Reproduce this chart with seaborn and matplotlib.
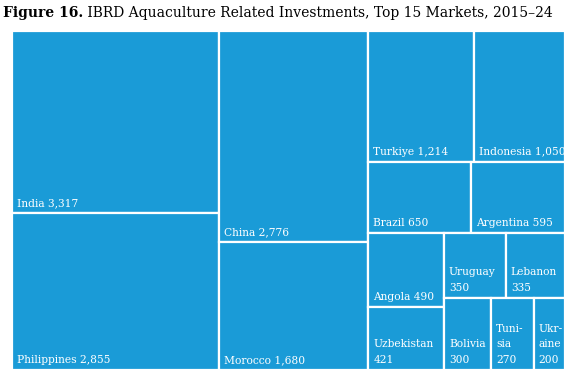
import matplotlib
matplotlib.use("Agg")
import matplotlib.pyplot as plt
import matplotlib.patches as mpatches
import seaborn as sns

# Data: IBRD aquaculture related investments, top 15 markets, 2015-24
markets = ["India", "Philippines", "China", "Morocco", "Turkiye", "Indonesia",
           "Brazil", "Argentina", "Angola", "Uzbekistan", "Uruguay", "Lebanon",
           "Bolivia", "Tunisia", "Ukraine"]
values = [3317, 2855, 2776, 1680, 1214, 1050, 650, 595, 490, 421, 350, 335,
          300, 270, 200]
# label text as printed in each tile (narrow tiles wrap)
labels = ["India 3,317", "Philippines 2,855", "China 2,776", "Morocco 1,680",
          "Turkiye 1,214", "Indonesia 1,050", "Brazil 650", "Argentina 595",
          "Angola 490", "Uzbekistan\n421", "Uruguay\n350", "Lebanon\n335",
          "Bolivia\n300", "Tuni-\nsia\n270", "Ukr-\naine\n200"]

title_bold = "Figure 16."
title_rest = " IBRD Aquaculture Related Investments, Top 15 Markets, 2015\u201324"


def worst(row, w):
    s = sum(row)
    return max(max(w * w * r / (s * s), (s * s) / (w * w * r)) for r in row)


def layout_row(row, x, y, dx, dy):
    # lay a row of areas along the shorter side of the rect
    s = sum(row)
    rects = []
    if dx >= dy:
        width = s / dy
        yy = y
        for r in row:
            h = r / width
            rects.append((x, yy, width, h))
            yy += h
        return rects, (x + width, y, dx - width, dy)
    height = s / dx
    xx = x
    for r in row:
        w = r / height
        rects.append((xx, y, w, height))
        xx += w
    return rects, (x, y + height, dx, dy - height)


def squarify(sizes, x, y, dx, dy):
    total = sum(sizes)
    areas = [v * dx * dy / total for v in sizes]
    rects = []
    rect = (x, y, dx, dy)
    i = 0
    while i < len(areas):
        side = min(rect[2], rect[3])
        row = [areas[i]]
        i += 1
        while i < len(areas) and worst(row + [areas[i]], side) <= worst(row, side):
            row.append(areas[i])
            i += 1
        r, rect = layout_row(row, *rect)
        rects.extend(r)
    return rects


sns.set_style("white")
plt.rcParams["font.family"] = ["DejaVu Serif"]

W, H = 553, 339
tile_color = "#1a9bd7"

fig = plt.figure(figsize=(5.74, 3.74), dpi=100)
ax = fig.add_axes([12 / 574, 4 / 374, W / 574, H / 374])

for (rx, ry, rw, rh), lab in zip(squarify(values, 0, 0, W, H), labels):
    ax.add_patch(mpatches.Rectangle((rx, ry), rw, rh, facecolor=tile_color,
                                    edgecolor="white", linewidth=1.6))
    ax.text(rx + 5, ry + rh - 5, lab, color="white", fontsize=7.7,
            ha="left", va="bottom", linespacing=1.7)

ax.set_xlim(0, W)
ax.set_ylim(H, 0)
ax.axis("off")

t = fig.text(3 / 574, 1 - 13 / 374, title_bold, fontsize=10,
             fontweight="bold", va="center", ha="left", color="black")
ax.annotate(title_rest, xy=(1, 0), xycoords=t, fontsize=10, color="black",
            va="bottom", ha="left", annotation_clip=False)

fig.savefig("out.png", dpi=100)
